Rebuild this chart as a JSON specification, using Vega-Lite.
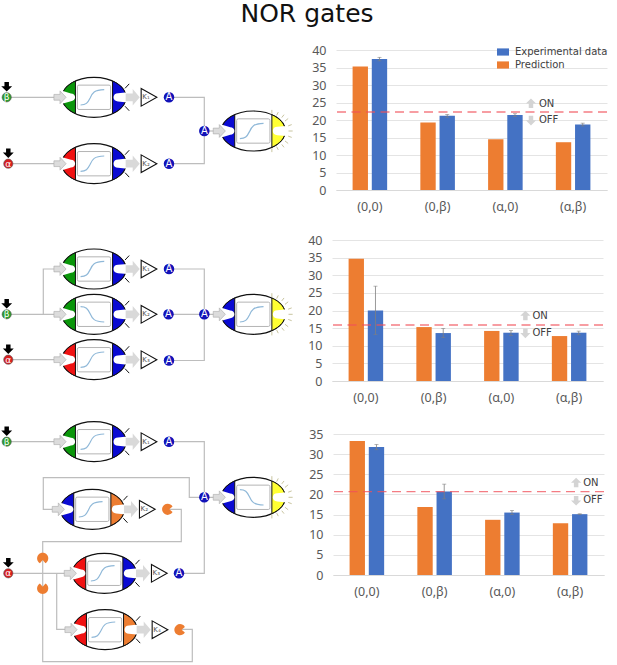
{
  "$schema": "https://vega.github.io/schema/vega-lite/v6.json",
  "padding": {"top": 2, "left": 0, "right": 0, "bottom": 0},
  "title": {"text": "NOR gates", "font": "DejaVu Sans", "fontSize": 25, "fontWeight": "normal", "color": "#111111", "anchor": "middle", "offset": 17, "dx": 3},
  "config": {
    "view": {"stroke": null},
    "point": {"opacity": 1, "size": 4096},
    "axis": {"labelFont": "Noto Sans", "labelColor": "#595959"},
    "axisY": {"tickCount": 8, "domain": false, "ticks": false, "gridColor": "#e4e4e4", "labelFontSize": 12.5, "labelPadding": 10},
    "axisX": {"grid": false, "ticks": false, "labelAngle": 0, "labelFontSize": 12.5, "labelPadding": 10, "domainColor": "#d9d9d9"},
    "text": {"font": "DejaVu Sans"}
  },
  "datasets": {
    "wires": [
      {"wire": "a1", "step": 0, "x": 7, "y": 97.3}, {"wire": "a1", "step": 1, "x": 55, "y": 97.3},
      {"wire": "a2", "step": 0, "x": 8, "y": 163.7}, {"wire": "a2", "step": 1, "x": 55, "y": 163.7},
      {"wire": "a3", "step": 0, "x": 169, "y": 97.3}, {"wire": "a3", "step": 1, "x": 204.3, "y": 97.3}, {"wire": "a3", "step": 2, "x": 204.3, "y": 163.7}, {"wire": "a3", "step": 3, "x": 169, "y": 163.7},
      {"wire": "a4", "step": 0, "x": 204.3, "y": 131}, {"wire": "a4", "step": 1, "x": 216, "y": 131},
      {"wire": "b1", "step": 0, "x": 7, "y": 314.3}, {"wire": "b1", "step": 1, "x": 55, "y": 314.3},
      {"wire": "b2", "step": 0, "x": 43.3, "y": 314.3}, {"wire": "b2", "step": 1, "x": 43.3, "y": 269}, {"wire": "b2", "step": 2, "x": 55, "y": 269},
      {"wire": "b3", "step": 0, "x": 8.3, "y": 359.7}, {"wire": "b3", "step": 1, "x": 55, "y": 359.7},
      {"wire": "b4", "step": 0, "x": 169, "y": 269}, {"wire": "b4", "step": 1, "x": 204.3, "y": 269}, {"wire": "b4", "step": 2, "x": 204.3, "y": 360.5}, {"wire": "b4", "step": 3, "x": 169, "y": 360.5},
      {"wire": "b5", "step": 0, "x": 169, "y": 314.3}, {"wire": "b5", "step": 1, "x": 216, "y": 314.3},
      {"wire": "c1", "step": 0, "x": 7, "y": 441.7}, {"wire": "c1", "step": 1, "x": 55, "y": 441.7},
      {"wire": "c2", "step": 0, "x": 169, "y": 441.7}, {"wire": "c2", "step": 1, "x": 204.3, "y": 441.7}, {"wire": "c2", "step": 2, "x": 204.3, "y": 573.3}, {"wire": "c2", "step": 3, "x": 179, "y": 573.3},
      {"wire": "c3", "step": 0, "x": 55, "y": 509.3}, {"wire": "c3", "step": 1, "x": 43.3, "y": 509.3}, {"wire": "c3", "step": 2, "x": 43.3, "y": 477.7}, {"wire": "c3", "step": 3, "x": 189.3, "y": 477.7}, {"wire": "c3", "step": 4, "x": 189.3, "y": 497.3}, {"wire": "c3", "step": 5, "x": 216, "y": 497.3},
      {"wire": "c4", "step": 0, "x": 167.7, "y": 509.3}, {"wire": "c4", "step": 1, "x": 181.3, "y": 509.3}, {"wire": "c4", "step": 2, "x": 181.3, "y": 541.7}, {"wire": "c4", "step": 3, "x": 42.7, "y": 541.7}, {"wire": "c4", "step": 4, "x": 42.7, "y": 661.7}, {"wire": "c4", "step": 5, "x": 192.3, "y": 661.7}, {"wire": "c4", "step": 6, "x": 192.3, "y": 629.3}, {"wire": "c4", "step": 7, "x": 180, "y": 629.3},
      {"wire": "c5", "step": 0, "x": 8.3, "y": 573.3}, {"wire": "c5", "step": 1, "x": 66, "y": 573.3},
      {"wire": "c6", "step": 0, "x": 56.7, "y": 573.3}, {"wire": "c6", "step": 1, "x": 56.7, "y": 629.3}, {"wire": "c6", "step": 2, "x": 67, "y": 629.3}
    ],
    "modules": [
      {"x": 94, "y": 97.3, "input": "beta", "output": "A", "curve": "up", "stage": "gate", "gain": "K₁"},
      {"x": 94, "y": 163.7, "input": "alpha", "output": "A", "curve": "up", "stage": "gate", "gain": "K₂"},
      {"x": 253.3, "y": 131, "input": "A", "output": "Y", "curve": "up", "stage": "reporter"},
      {"x": 94, "y": 269, "input": "beta", "output": "A", "curve": "up", "stage": "gate", "gain": "K₁"},
      {"x": 94, "y": 314.3, "input": "beta", "output": "A", "curve": "down", "stage": "gate", "gain": "K₂"},
      {"x": 94, "y": 359.7, "input": "alpha", "output": "A", "curve": "up", "stage": "gate", "gain": "K₃"},
      {"x": 253.3, "y": 314.3, "input": "A", "output": "Y", "curve": "up", "stage": "reporter"},
      {"x": 94, "y": 441.7, "input": "beta", "output": "A", "curve": "up", "stage": "gate", "gain": "K₁"},
      {"x": 92.3, "y": 509.3, "input": "A", "output": "C", "curve": "up", "stage": "gate", "gain": "K₂"},
      {"x": 104.3, "y": 573.3, "input": "alpha", "output": "A", "curve": "up", "stage": "gate", "gain": "K₃"},
      {"x": 105, "y": 629.7, "input": "alpha", "output": "C", "curve": "up", "stage": "gate", "gain": "K₄"},
      {"x": 253.3, "y": 497.3, "input": "A", "output": "Y", "curve": "down", "stage": "reporter"}
    ],
    "proteins": [
      {"x": 169, "y": 97.3}, {"x": 169, "y": 163.7}, {"x": 204.3, "y": 131},
      {"x": 169, "y": 269}, {"x": 168.5, "y": 314.3}, {"x": 169, "y": 360.5}, {"x": 204.3, "y": 314.3},
      {"x": 169, "y": 441.7}, {"x": 179, "y": 573.3}, {"x": 204.3, "y": 497.3}
    ],
    "repressors": [
      {"x": 167.7, "y": 509.3, "mouth": "right"}, {"x": 180, "y": 629.7, "mouth": "right"},
      {"x": 42.7, "y": 558.3, "mouth": "down"}, {"x": 42.7, "y": 588.3, "mouth": "up"}
    ],
    "inducers": [
      {"x": 6.7, "y": 97.3, "signal": "β"}, {"x": 8.3, "y": 163.7, "signal": "α"},
      {"x": 6.7, "y": 314.3, "signal": "β"}, {"x": 8.3, "y": 359.7, "signal": "α"},
      {"x": 6.7, "y": 441.7, "signal": "β"}, {"x": 8.3, "y": 573.3, "signal": "α"}
    ],
    "gate1": [
      {"input": "(0,0)", "series": "Prediction", "value": 35.3},
      {"input": "(0,0)", "series": "Experimental data", "value": 37.4, "low": 36.9, "high": 37.9},
      {"input": "(0,β)", "series": "Prediction", "value": 19.3},
      {"input": "(0,β)", "series": "Experimental data", "value": 21.2, "low": 20.8, "high": 21.6},
      {"input": "(α,0)", "series": "Prediction", "value": 14.5},
      {"input": "(α,0)", "series": "Experimental data", "value": 21.4, "low": 21, "high": 21.8},
      {"input": "(α,β)", "series": "Prediction", "value": 13.65},
      {"input": "(α,β)", "series": "Experimental data", "value": 18.7, "low": 18.3, "high": 19.1}
    ],
    "gate2": [
      {"input": "(0,0)", "series": "Prediction", "value": 34.7},
      {"input": "(0,0)", "series": "Experimental data", "value": 20, "low": 13.2, "high": 26.9},
      {"input": "(0,β)", "series": "Prediction", "value": 15.3},
      {"input": "(0,β)", "series": "Experimental data", "value": 13.6, "low": 12.3, "high": 14.9},
      {"input": "(α,0)", "series": "Prediction", "value": 14.2},
      {"input": "(α,0)", "series": "Experimental data", "value": 13.7, "low": 12.95, "high": 14.3},
      {"input": "(α,β)", "series": "Prediction", "value": 12.75},
      {"input": "(α,β)", "series": "Experimental data", "value": 13.7, "low": 13.1, "high": 14.15}
    ],
    "gate3": [
      {"input": "(0,0)", "series": "Prediction", "value": 33.25},
      {"input": "(0,0)", "series": "Experimental data", "value": 31.75, "low": 31.1, "high": 32.4},
      {"input": "(0,β)", "series": "Prediction", "value": 16.9},
      {"input": "(0,β)", "series": "Experimental data", "value": 20.7, "low": 18.9, "high": 22.55},
      {"input": "(α,0)", "series": "Prediction", "value": 13.7},
      {"input": "(α,0)", "series": "Experimental data", "value": 15.5, "low": 15, "high": 16},
      {"input": "(α,β)", "series": "Prediction", "value": 12.85},
      {"input": "(α,β)", "series": "Experimental data", "value": 15.1, "low": 15, "high": 15.2}
    ]
  },
  "spacing": 0,
  "hconcat": [
    {
      "width": 300,
      "height": 615,
      "encoding": {
        "x": {"field": "x", "type": "quantitative", "scale": {"domain": [0, 300]}, "axis": null},
        "y": {"field": "y", "type": "quantitative", "scale": {"domain": [50, 665], "reverse": true}, "axis": null}
      },
      "layer": [
        {
          "data": {"name": "modules"},
          "mark": {"type": "point", "filled": true, "fill": "white", "stroke": "#111111", "strokeWidth": 1.2, "shape": "M-1,0 C-1,-.345 -.552,-.625 0,-.625 C.552,-.625 1,-.345 1,0 C1,.345 .552,.625 0,.625 C-.552,.625 -1,.345 -1,0Z"}
        },
        {
          "data": {"name": "modules"},
          "mark": {"type": "point", "filled": true, "stroke": "#111111", "strokeWidth": 1, "shape": "M-.58,-.509 C-.843,-.392 -1,-.202 -1,0 C-1,.202 -.843,.392 -.58,.509Z"},
          "encoding": {"fill": {"field": "input", "type": "nominal", "legend": null, "scale": {"domain": ["beta", "alpha", "A", "C", "Y"], "range": ["#0a960a", "#f01212", "#0a0ad2", "#ed7d31", "#ffff33"]}}}
        },
        {
          "data": {"name": "modules"},
          "mark": {"type": "point", "filled": true, "stroke": "#111111", "strokeWidth": 1, "shape": "M.58,-.509 C.843,-.392 1,-.202 1,0 C1,.202 .843,.392 .58,.509Z"},
          "encoding": {"fill": {"field": "output", "type": "nominal", "legend": null, "scale": {"domain": ["beta", "alpha", "A", "C", "Y"], "range": ["#0a960a", "#f01212", "#0a0ad2", "#ed7d31", "#ffff33"]}}}
        },
        {
          "data": {"name": "modules"},
          "mark": {"type": "point", "filled": true, "fill": "white", "shape": "M-1.05,-.22 L-.72,-.12 C-.65,-.12 -.59,-.07 -.59,0 C-.59,.07 -.65,.12 -.72,.12 L-1.05,.22Z"}
        },
        {
          "data": {"name": "modules"},
          "mark": {"type": "point", "filled": true, "fill": "white", "shape": "M1.05,-.16 L.75,-.13 C.67,-.13 .61,-.08 .61,0 C.61,.08 .67,.13 .75,.13 L1.05,.16Z"}
        },
        {
          "data": {"name": "modules"},
          "mark": {"type": "point", "filled": true, "fill": "white", "stroke": "#b4b4b4", "strokeWidth": 1, "shape": "M-.47,-.38 L.47,-.38 Q.52,-.38 .52,-.33 L.52,.33 Q.52,.38 .47,.38 L-.47,.38 Q-.52,.38 -.52,.33 L-.52,-.33 Q-.52,-.38 -.47,-.38Z"}
        },
        {
          "data": {"name": "modules"},
          "mark": {"type": "point", "filled": false, "stroke": "#8fb8d8", "strokeWidth": 1.2},
          "encoding": {"shape": {"field": "curve", "type": "nominal", "legend": null, "scale": {"domain": ["up", "down"], "range": ["M-.42,.24 C-.25,.24 -.2,.18 -.12,.02 C-.05,-.14 0,-.23 .32,-.24", "M-.42,-.24 C-.25,-.24 -.2,-.18 -.12,-.02 C-.05,.14 0,.23 .32,.24"]}}}
        },
        {
          "data": {"name": "modules"},
          "transform": [{"filter": {"field": "stage", "equal": "gate"}}],
          "mark": {"type": "point", "filled": false, "stroke": "#111111", "strokeWidth": 1, "shape": "M.97,-.28 L1.1,-.42 M.97,.28 L1.1,.42"}
        },
        {
          "data": {"name": "modules"},
          "transform": [{"filter": {"field": "stage", "equal": "reporter"}}],
          "mark": {"type": "point", "filled": false, "stroke": "#c9c5a0", "strokeWidth": 1, "shape": "M.58,-.66 L.58,-.54 M.78,-.59 L.73,-.49 M.96,-.51 L.89,-.42 M1.09,-.39 L.99,-.31 M1.2,-.2 L1.09,-.16 M1.23,0 L1.1,0 M1.2,.2 L1.09,.16 M1.09,.39 L.99,.31 M.96,.51 L.89,.42 M.78,.59 L.73,.49 M.58,.66 L.58,.54"}
        },
        {
          "data": {"name": "wires"},
          "mark": {"type": "line", "stroke": "#bdbdbd", "strokeWidth": 1.2},
          "encoding": {"detail": {"field": "wire"}, "order": {"field": "step"}}
        },
        {
          "data": {"name": "modules"},
          "mark": {"type": "point", "filled": true, "fill": "#dcdcdc", "stroke": "#a8a8a8", "strokeWidth": 0.6, "xOffset": -34, "shape": "M-.19,-.09 L0,-.09 L0,-.2 L.19,0 L0,.2 L0,.09 L-.19,.09Z"}
        },
        {
          "data": {"name": "modules"},
          "transform": [{"filter": {"field": "stage", "equal": "gate"}}],
          "mark": {"type": "point", "filled": true, "fill": "#d9d9d9", "xOffset": 38.7, "shape": "M-.22,-.12 L0,-.12 L0,-.26 L.22,0 L0,.26 L0,.12 L-.22,.12Z"}
        },
        {
          "data": {"name": "modules"},
          "transform": [{"filter": {"field": "stage", "equal": "gate"}}],
          "mark": {"type": "point", "filled": true, "fill": "white", "stroke": "#111111", "strokeWidth": 1.1, "xOffset": 55, "shape": "M-.245,-.276 L.245,0 L-.245,.276Z"}
        },
        {
          "data": {"name": "modules"},
          "transform": [{"filter": {"field": "stage", "equal": "gate"}}],
          "mark": {"type": "text", "fontSize": 7, "color": "#555555", "dx": 52, "baseline": "middle"},
          "encoding": {"text": {"field": "gain"}}
        },
        {
          "data": {"name": "proteins"},
          "mark": {"type": "point", "filled": true, "fill": "#1212b8", "shape": "circle", "size": 110}
        },
        {
          "data": {"name": "proteins"},
          "mark": {"type": "text", "text": "A", "fontSize": 10, "color": "white", "baseline": "middle"}
        },
        {
          "data": {"name": "repressors"},
          "transform": [{"filter": {"field": "mouth", "equal": "right"}}],
          "mark": {"type": "point", "filled": true, "fill": "#ed7d31", "shape": "M.152,-.0875 C.0976,-.1817 -.0292,-.204 -.1125,-.134 C-.1958,-.064 -.1958,.064 -.1125,.134 C-.0292,.204 .0976,.1817 .152,.0875 L.05,0Z"}
        },
        {
          "data": {"name": "repressors"},
          "transform": [{"filter": {"field": "mouth", "equal": "up"}}],
          "mark": {"type": "point", "filled": true, "fill": "#ed7d31", "shape": "M-.0875,-.152 C-.1817,-.0976 -.204,.0292 -.134,.1125 C-.064,.1958 .064,.1958 .134,.1125 C.204,.0292 .1817,-.0976 .0875,-.152 L0,-.05Z"}
        },
        {
          "data": {"name": "repressors"},
          "transform": [{"filter": {"field": "mouth", "equal": "down"}}],
          "mark": {"type": "point", "filled": true, "fill": "#ed7d31", "shape": "M.0875,.152 C.1817,.0976 .204,-.0292 .134,-.1125 C.064,-.1958 -.064,-.1958 -.134,-.1125 C-.204,-.0292 -.1817,.0976 -.0875,.152 L0,.05Z"}
        },
        {
          "data": {"name": "inducers"},
          "mark": {"type": "point", "filled": true, "shape": "circle", "size": 85, "stroke": "#555555", "strokeWidth": 0.6},
          "encoding": {"fill": {"field": "signal", "type": "nominal", "legend": null, "scale": {"domain": ["β", "α"], "range": ["#2e9e2e", "#d81e1e"]}}}
        },
        {
          "data": {"name": "inducers"},
          "mark": {"type": "text", "fontSize": 9, "color": "white", "baseline": "middle"},
          "encoding": {"text": {"field": "signal"}}
        },
        {
          "data": {"name": "inducers"},
          "mark": {"type": "point", "filled": true, "fill": "#000000", "yOffset": -10.5, "shape": "M-.07,-.15 L.07,-.15 L.07,-.02 L.17,-.02 L0,.15 L-.17,-.02 L-.07,-.02Z"}
        }
      ],
      "resolve": {"scale": {"fill": "independent"}}
    },
    {
      "vconcat": [
        {
          "spacing": 0,
          "hconcat": [
            {"width": 5, "height": 1, "data": {"values": [{"gap": 1}]}, "mark": {"type": "point", "opacity": 0, "size": 1}, "encoding": {}},
            {
              "width": 271,
              "height": 140,
              "layer": [
                {
                  "data": {"name": "gate1"},
                  "mark": {"type": "bar"},
                  "encoding": {
                    "x": {"field": "input", "type": "nominal", "title": null, "scale": {"domain": ["(0,0)", "(0,β)", "(α,0)", "(α,β)"], "paddingInner": 0.49, "paddingOuter": 0.245}, "axis": {"minExtent": 25}},
                    "xOffset": {"field": "series", "type": "nominal", "scale": {"domain": ["Prediction", "Experimental data"], "paddingInner": 0.2}},
                    "y": {"field": "value", "type": "quantitative", "title": null, "scale": {"domain": [0, 40]}, "axis": {"minExtent": 31}},
                    "color": {"field": "series", "type": "nominal", "scale": {"domain": ["Experimental data", "Prediction"], "range": ["#4472c4", "#ed7d31"]}, "legend": {"orient": "none", "legendX": 496, "legendY": -5, "title": null, "symbolType": "M-1,-.6 L1,-.6 L1,.6 L-1,.6Z", "symbolSize": 144, "symbolOpacity": 1, "labelFont": "DejaVu Sans", "labelFontSize": 10, "labelColor": "#404040", "labelOffset": 5, "rowPadding": 1}}
                  }
                },
                {
                  "data": {"name": "gate1"},
                  "transform": [{"filter": {"field": "series", "equal": "Experimental data"}}],
                  "mark": {"type": "rule", "color": "#7f7f7f", "strokeWidth": 0.8},
                  "encoding": {
                    "x": {"field": "input", "type": "nominal", "title": null},
                    "xOffset": {"field": "series", "type": "nominal"},
                    "y": {"field": "low", "type": "quantitative", "title": null},
                    "y2": {"field": "high"}
                  }
                },
                {
                  "data": {"name": "gate1"},
                  "transform": [{"filter": {"field": "series", "equal": "Experimental data"}}, {"fold": ["low", "high"], "as": ["end", "limit"]}],
                  "mark": {"type": "tick", "color": "#7f7f7f", "size": 4, "thickness": 0.8},
                  "encoding": {
                    "x": {"field": "input", "type": "nominal", "title": null},
                    "xOffset": {"field": "series", "type": "nominal"},
                    "y": {"field": "limit", "type": "quantitative", "title": null}
                  }
                },
                {
                  "data": {"values": [{"threshold": 22.3}]},
                  "mark": {"type": "rule", "color": "#f0505a", "opacity": 0.75, "strokeWidth": 1.4, "strokeDash": [9, 5.5]},
                  "encoding": {"y": {"field": "threshold", "type": "quantitative", "title": null}}
                },
                {
                  "data": {"values": [{"input": "(α,0)", "label": "ON", "level": 24.7}]},
                  "mark": {"type": "point", "filled": true, "fill": "#d4d4d4", "xOffset": 25.6, "shape": "M0,-.16 L.16,0 L.07,0 L.07,.14 L-.07,.14 L-.07,0 L-.16,0Z"},
                  "encoding": {
                    "x": {"field": "input", "type": "nominal", "title": null},
                    "y": {"field": "level", "type": "quantitative", "title": null}
                  }
                },
                {
                  "data": {"values": [{"input": "(α,0)", "label": "OFF", "level": 19.9}]},
                  "mark": {"type": "point", "filled": true, "fill": "#d4d4d4", "xOffset": 25.6, "shape": "M0,.16 L.16,0 L.07,0 L.07,-.14 L-.07,-.14 L-.07,0 L-.16,0Z"},
                  "encoding": {
                    "x": {"field": "input", "type": "nominal", "title": null},
                    "y": {"field": "level", "type": "quantitative", "title": null}
                  }
                },
                {
                  "data": {"values": [{"input": "(α,0)", "label": "ON", "level": 24.7}, {"input": "(α,0)", "label": "OFF", "level": 19.9}]},
                  "mark": {"type": "text", "align": "left", "baseline": "middle", "dx": 33.6, "fontSize": 10, "color": "#404040"},
                  "encoding": {
                    "x": {"field": "input", "type": "nominal", "title": null},
                    "y": {"field": "level", "type": "quantitative", "title": null},
                    "text": {"field": "label"}
                  }
                }
              ]
            }
          ]
        },
        {
          "spacing": 0,
          "hconcat": [
            {"width": 1, "height": 1, "data": {"values": [{"gap": 1}]}, "mark": {"type": "point", "opacity": 0, "size": 1}, "encoding": {}},
            {
              "width": 271,
              "height": 141,
              "layer": [
                {
                  "data": {"name": "gate2"},
                  "mark": {"type": "bar"},
                  "encoding": {
                    "x": {"field": "input", "type": "nominal", "title": null, "scale": {"domain": ["(0,0)", "(0,β)", "(α,0)", "(α,β)"], "paddingInner": 0.49, "paddingOuter": 0.245}, "axis": {"minExtent": 28}},
                    "xOffset": {"field": "series", "type": "nominal", "scale": {"domain": ["Prediction", "Experimental data"], "paddingInner": 0.2}},
                    "y": {"field": "value", "type": "quantitative", "title": null, "scale": {"domain": [0, 40]}, "axis": {"minExtent": 31}},
                    "color": {"field": "series", "type": "nominal", "scale": {"domain": ["Experimental data", "Prediction"], "range": ["#4472c4", "#ed7d31"]}, "legend": null}
                  }
                },
                {
                  "data": {"name": "gate2"},
                  "transform": [{"filter": {"field": "series", "equal": "Experimental data"}}],
                  "mark": {"type": "rule", "color": "#7f7f7f", "strokeWidth": 0.8},
                  "encoding": {
                    "x": {"field": "input", "type": "nominal", "title": null},
                    "xOffset": {"field": "series", "type": "nominal"},
                    "y": {"field": "low", "type": "quantitative", "title": null},
                    "y2": {"field": "high"}
                  }
                },
                {
                  "data": {"name": "gate2"},
                  "transform": [{"filter": {"field": "series", "equal": "Experimental data"}}, {"fold": ["low", "high"], "as": ["end", "limit"]}],
                  "mark": {"type": "tick", "color": "#7f7f7f", "size": 4, "thickness": 0.8},
                  "encoding": {
                    "x": {"field": "input", "type": "nominal", "title": null},
                    "xOffset": {"field": "series", "type": "nominal"},
                    "y": {"field": "limit", "type": "quantitative", "title": null}
                  }
                },
                {
                  "data": {"values": [{"threshold": 15.9}]},
                  "mark": {"type": "rule", "color": "#f0505a", "opacity": 0.75, "strokeWidth": 1.4, "strokeDash": [9, 5.5]},
                  "encoding": {"y": {"field": "threshold", "type": "quantitative", "title": null}}
                },
                {
                  "data": {"values": [{"input": "(α,0)", "label": "ON", "level": 18.5}]},
                  "mark": {"type": "point", "filled": true, "fill": "#d4d4d4", "xOffset": 24, "shape": "M0,-.16 L.16,0 L.07,0 L.07,.14 L-.07,.14 L-.07,0 L-.16,0Z"},
                  "encoding": {
                    "x": {"field": "input", "type": "nominal", "title": null},
                    "y": {"field": "level", "type": "quantitative", "title": null}
                  }
                },
                {
                  "data": {"values": [{"input": "(α,0)", "label": "OFF", "level": 13.6}]},
                  "mark": {"type": "point", "filled": true, "fill": "#d4d4d4", "xOffset": 24, "shape": "M0,.16 L.16,0 L.07,0 L.07,-.14 L-.07,-.14 L-.07,0 L-.16,0Z"},
                  "encoding": {
                    "x": {"field": "input", "type": "nominal", "title": null},
                    "y": {"field": "level", "type": "quantitative", "title": null}
                  }
                },
                {
                  "data": {"values": [{"input": "(α,0)", "label": "ON", "level": 18.5}, {"input": "(α,0)", "label": "OFF", "level": 13.6}]},
                  "mark": {"type": "text", "align": "left", "baseline": "middle", "dx": 31, "fontSize": 10, "color": "#404040"},
                  "encoding": {
                    "x": {"field": "input", "type": "nominal", "title": null},
                    "y": {"field": "level", "type": "quantitative", "title": null},
                    "text": {"field": "label"}
                  }
                }
              ]
            }
          ]
        },
        {
          "spacing": 0,
          "hconcat": [
            {"width": 2, "height": 1, "data": {"values": [{"gap": 1}]}, "mark": {"type": "point", "opacity": 0, "size": 1}, "encoding": {}},
            {
              "width": 271,
              "height": 141,
              "layer": [
                {
                  "data": {"name": "gate3"},
                  "mark": {"type": "bar"},
                  "encoding": {
                    "x": {"field": "input", "type": "nominal", "title": null, "scale": {"domain": ["(0,0)", "(0,β)", "(α,0)", "(α,β)"], "paddingInner": 0.49, "paddingOuter": 0.245}, "axis": {"minExtent": 25}},
                    "xOffset": {"field": "series", "type": "nominal", "scale": {"domain": ["Prediction", "Experimental data"], "paddingInner": 0.2}},
                    "y": {"field": "value", "type": "quantitative", "title": null, "scale": {"domain": [0, 35]}, "axis": {"minExtent": 31}},
                    "color": {"field": "series", "type": "nominal", "scale": {"domain": ["Experimental data", "Prediction"], "range": ["#4472c4", "#ed7d31"]}, "legend": null}
                  }
                },
                {
                  "data": {"name": "gate3"},
                  "transform": [{"filter": {"field": "series", "equal": "Experimental data"}}],
                  "mark": {"type": "rule", "color": "#7f7f7f", "strokeWidth": 0.8},
                  "encoding": {
                    "x": {"field": "input", "type": "nominal", "title": null},
                    "xOffset": {"field": "series", "type": "nominal"},
                    "y": {"field": "low", "type": "quantitative", "title": null},
                    "y2": {"field": "high"}
                  }
                },
                {
                  "data": {"name": "gate3"},
                  "transform": [{"filter": {"field": "series", "equal": "Experimental data"}}, {"fold": ["low", "high"], "as": ["end", "limit"]}],
                  "mark": {"type": "tick", "color": "#7f7f7f", "size": 4, "thickness": 0.8},
                  "encoding": {
                    "x": {"field": "input", "type": "nominal", "title": null},
                    "xOffset": {"field": "series", "type": "nominal"},
                    "y": {"field": "limit", "type": "quantitative", "title": null}
                  }
                },
                {
                  "data": {"values": [{"threshold": 20.7}]},
                  "mark": {"type": "rule", "color": "#f0505a", "opacity": 0.75, "strokeWidth": 1.4, "strokeDash": [9, 5.5]},
                  "encoding": {"y": {"field": "threshold", "type": "quantitative", "title": null}}
                },
                {
                  "data": {"values": [{"input": "(α,β)", "label": "ON", "level": 22.9}]},
                  "mark": {"type": "point", "filled": true, "fill": "#d4d4d4", "xOffset": 6, "shape": "M0,-.16 L.16,0 L.07,0 L.07,.14 L-.07,.14 L-.07,0 L-.16,0Z"},
                  "encoding": {
                    "x": {"field": "input", "type": "nominal", "title": null},
                    "y": {"field": "level", "type": "quantitative", "title": null}
                  }
                },
                {
                  "data": {"values": [{"input": "(α,β)", "label": "OFF", "level": 18.5}]},
                  "mark": {"type": "point", "filled": true, "fill": "#d4d4d4", "xOffset": 6, "shape": "M0,.16 L.16,0 L.07,0 L.07,-.14 L-.07,-.14 L-.07,0 L-.16,0Z"},
                  "encoding": {
                    "x": {"field": "input", "type": "nominal", "title": null},
                    "y": {"field": "level", "type": "quantitative", "title": null}
                  }
                },
                {
                  "data": {"values": [{"input": "(α,β)", "label": "ON", "level": 22.9}, {"input": "(α,β)", "label": "OFF", "level": 18.5}]},
                  "mark": {"type": "text", "align": "left", "baseline": "middle", "dx": 13, "fontSize": 10, "color": "#404040"},
                  "encoding": {
                    "x": {"field": "input", "type": "nominal", "title": null},
                    "y": {"field": "level", "type": "quantitative", "title": null},
                    "text": {"field": "label"}
                  }
                }
              ]
            }
          ]
        }
      ],
      "spacing": 19,
      "align": "none"
    }
  ]
}
